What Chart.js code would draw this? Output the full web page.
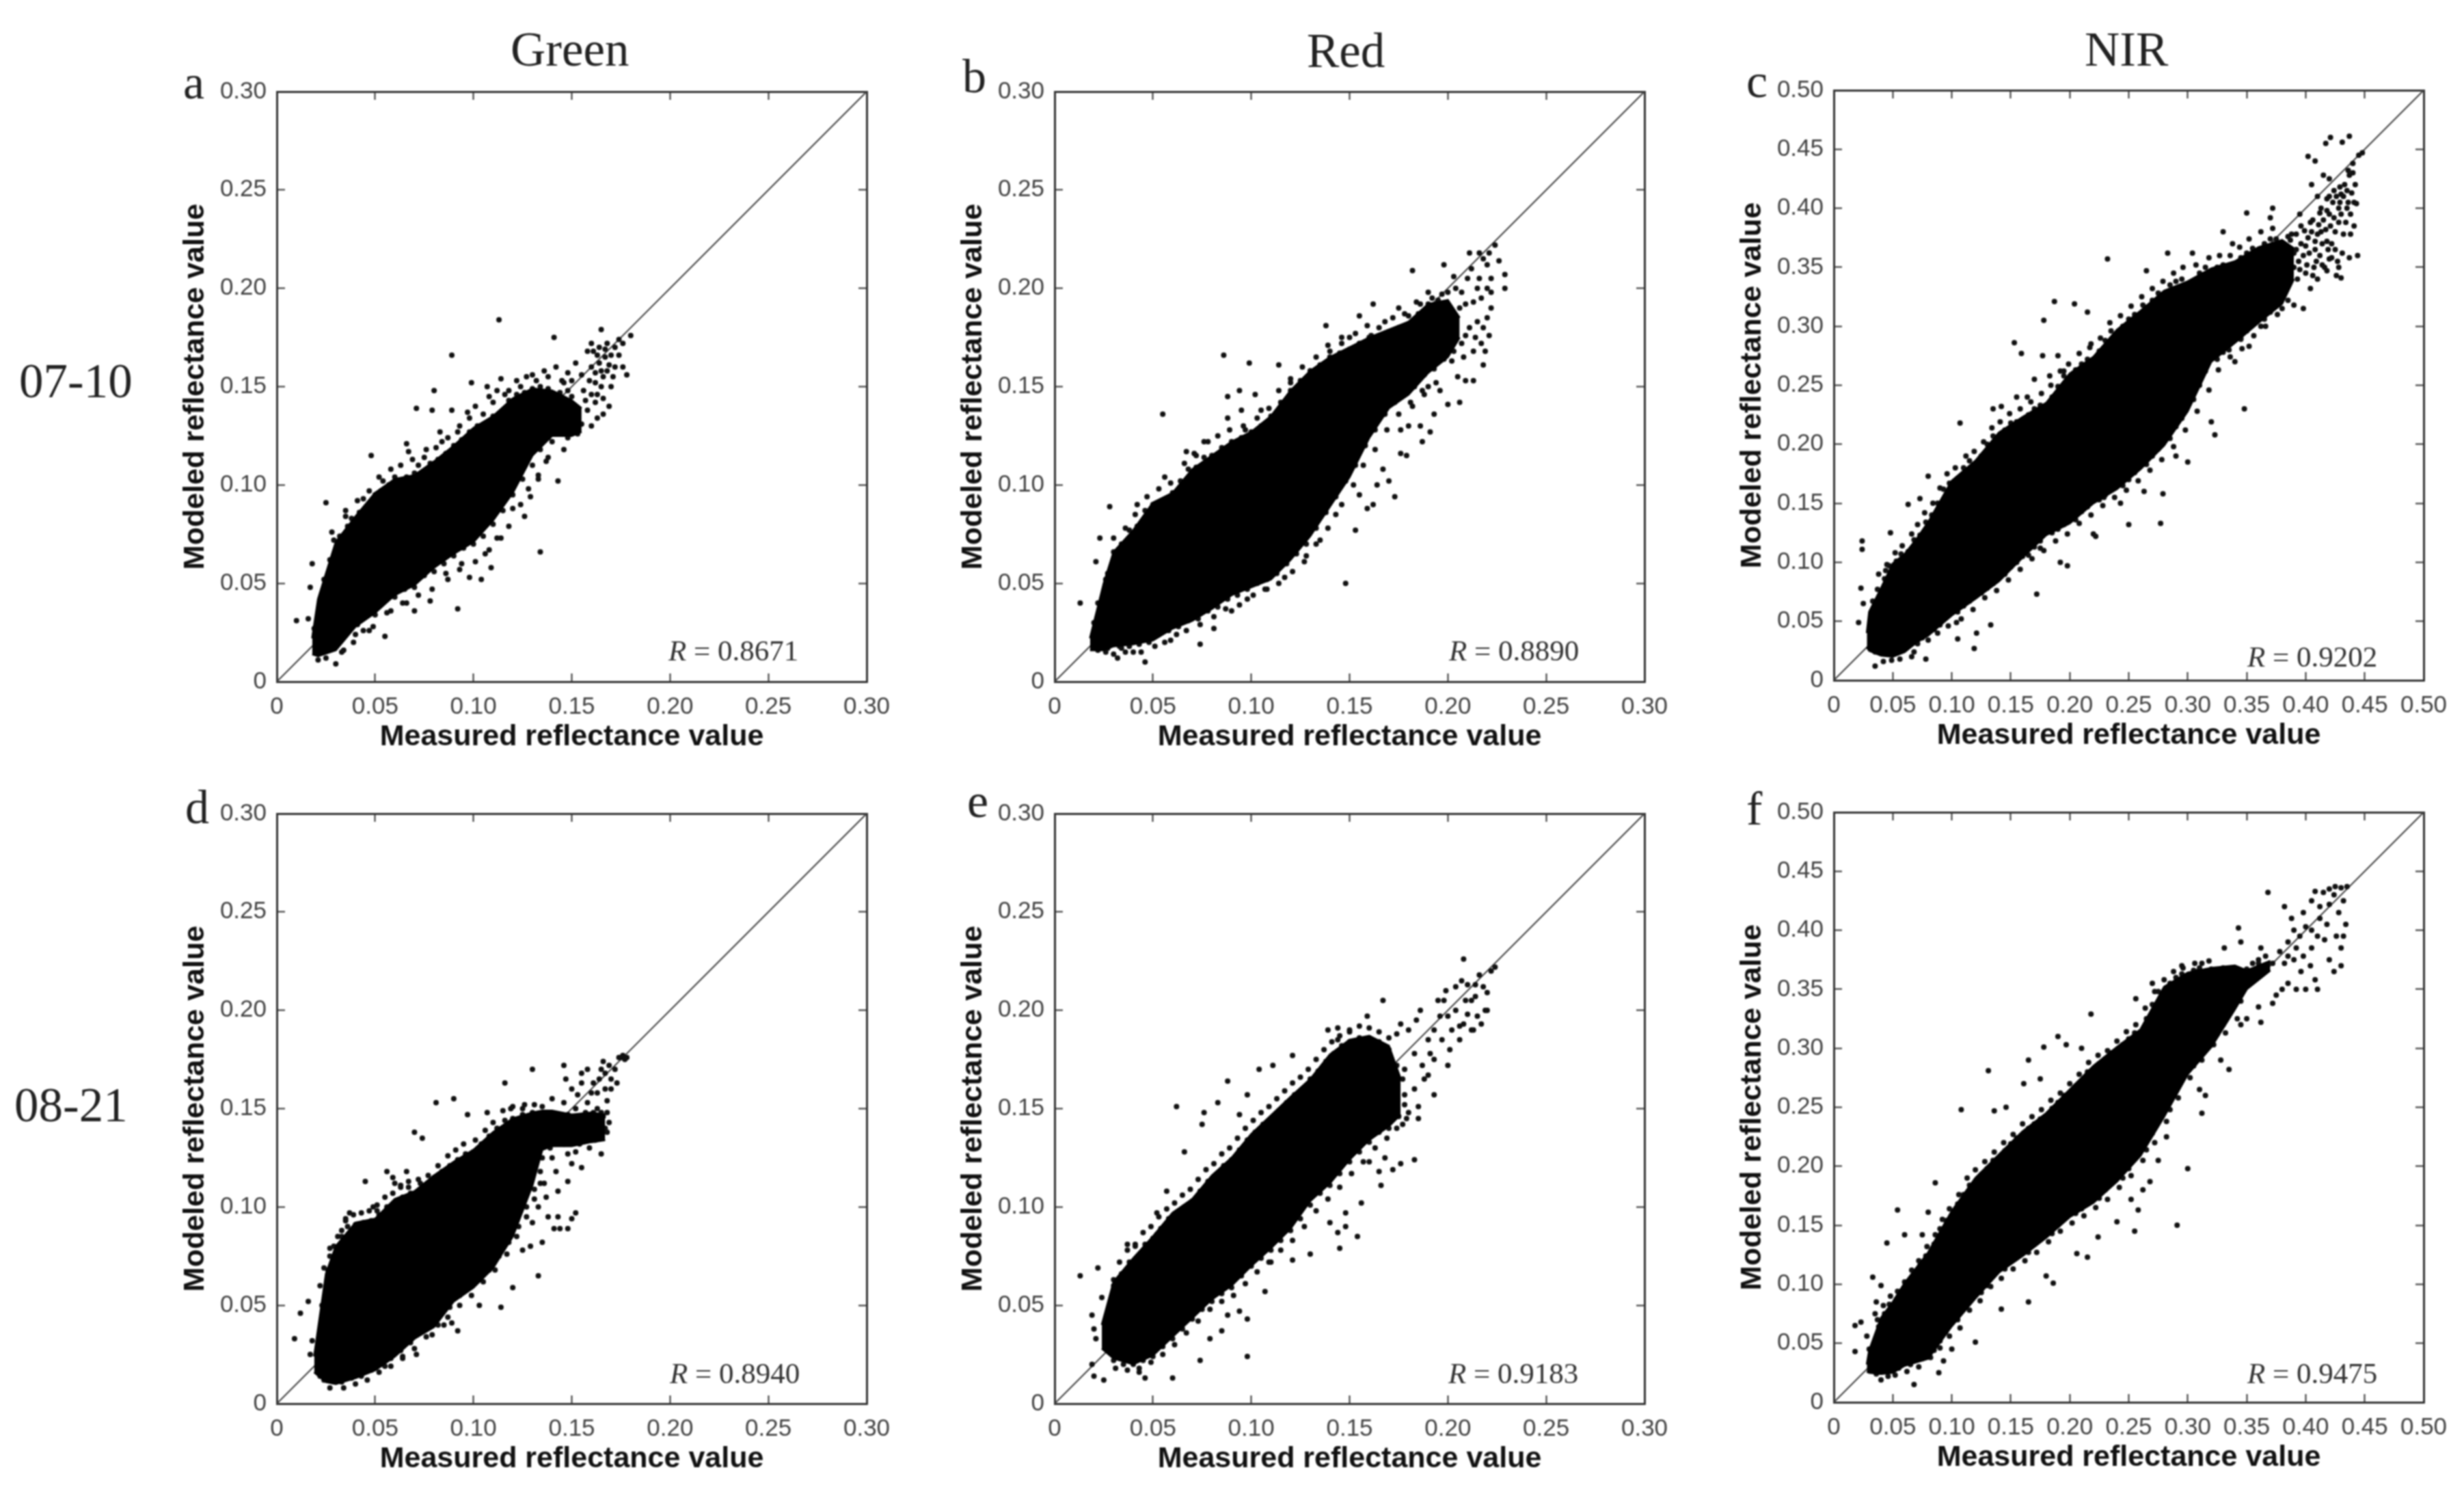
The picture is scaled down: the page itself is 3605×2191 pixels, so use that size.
<!DOCTYPE html>
<html>
<head>
<meta charset="utf-8">
<title>Measured vs modeled reflectance</title>
<script src="https://cdn.jsdelivr.net/npm/chart.js@4/dist/chart.umd.min.js"></script>
<style>
    html, body { margin: 0; padding: 0; background: #fff; }
    #page { position: relative; width: 3605px; height: 2191px; overflow: hidden; background: #fff; filter: blur(0.8px); }
    canvas { position: absolute; }
    .serif { position: absolute; font-family: "Liberation Serif", serif; line-height: 1; white-space: nowrap; color: #222; }
</style>
</head>
<body>
<div id="page"></div>
<script>
// Tick labels
const ticks30 = ['0', '0.05', '0.10', '0.15', '0.20', '0.25', '0.30'];
const ticks50 = ['0', '0.05', '0.10', '0.15', '0.20', '0.25', '0.30', '0.35', '0.40', '0.45', '0.50'];

// Panel a: dense cloud read as top and bottom edges, then the separate dots
const aCloudX = [.018, .021, .03, .04, .05, .06, .07, .08, .09, .10, .11, .12, .13, .14, .15, .155];
const aCloudTop = [.022, .042, .071, .084, .096, .103, .105, .112, .120, .129, .135, .144, .149, .148, .143, .139];
const aCloudBottom = [.014, .013, .016, .028, .035, .044, .049, .058, .065, .071, .082, .096, .115, .125, .125, .127];
const aDots = [[.113,.184],[.089,.166],[.141,.175],[.165,.179],[.080,.148],[.071,.139],[.079,.138],[.089,.138],[.099,.152],[.107,.150],[.114,.154],[.025,.091],[.035,.087],[.048,.115],[.066,.121],[.134,.066],[.143,.102],[.092,.037],[.055,.023],[.030,.009],[.018,.060],[.017,.048],[.010,.031],[.016,.032],[.032,.074],[.044,.093],[.054,.102],[.180,.176],[.178,.156],[.104,.052],[.109,.058],[.098,.053],[.078,.041],[.070,.036],[.047,.026],[.060,.104],[.072,.110],[.076,.118],[.084,.122],[.092,.127],[.098,.134],[.105,.136],[.110,.142],[.118,.148],[.124,.150],[.130,.156],[.136,.158],[.142,.160],[.148,.157],[.120,.088],[.128,.098],[.133,.105],[.137,.112],[.140,.122],[.126,.084],[.114,.073],[.106,.065],[.094,.060],[.086,.055],[.064,.040],[.056,.035],[.040,.024],[.034,.016],[.025,.012],[.021,.011],[.019,.027],[.148,.148],[.150,.153],[.152,.162],[.155,.156],[.156,.148],[.158,.168],[.160,.160],[.160,.172],[.162,.152],[.162,.142],[.164,.170],[.164,.162],[.165,.150],[.166,.144],[.166,.136],[.168,.172],[.168,.158],[.170,.166],[.170,.150],[.172,.170],[.172,.160],[.174,.174],[.174,.166],[.176,.172],[.160,.130],[.163,.134],[.155,.131],[.169,.140],[.152,.128],[.158,.138],[.176,.160],[.161,.168],[.163,.166],[.165,.158],[.167,.165],[.163,.146],[.160,.146],[.157,.143],[.166,.155],[.162,.157],[.159,.153],[.167,.169],[.169,.161],[.171,.155],[.146,.152],[.144,.146]];
const aEdge = [[.024,.052],[.027,.062],[.029,.072],[.033,.072],[.036,.079],[.038,.083],[.042,.086],[.046,.088],[.05,.095],[.053,.097],[.057,.100],[.062,.102],[.066,.104],[.07,.106],[.074,.106],[.078,.111],[.082,.113],[.086,.116],[.09,.12],[.094,.123],[.098,.127],[.102,.13],[.106,.131],[.11,.135],[.114,.137],[.118,.143],[.122,.146],[.126,.147],[.13,.149],[.134,.15],[.138,.149],[.144,.147],[.15,.145],[.026,.017],[.029,.02],[.033,.024],[.037,.027],[.041,.029],[.045,.033],[.05,.034],[.055,.041],[.06,.043],[.065,.047],[.07,.048],[.075,.054],[.08,.056],[.085,.06],[.09,.064],[.095,.068],[.1,.07],[.105,.074],[.11,.08],[.115,.087],[.12,.095],[.125,.103],[.13,.11],[.134,.118],[.138,.124],[.143,.126],[.148,.124],[.153,.126]];
const aFringe = [[.028,.076],[.035,.084],[.041,.092],[.047,.097],[.052,.104],[.058,.108],[.063,.110],[.069,.113],[.067,.117],[.075,.114],[.081,.119],[.087,.124],[.083,.127],[.093,.130],[.097,.137],[.101,.140],[.108,.145],[.112,.148],[.116,.146],[.122,.153],[.127,.155],[.132,.153],[.138,.155],[.145,.153],[.033,.015],[.039,.020],[.044,.026],[.049,.028],[.058,.036],[.066,.040],[.072,.044],[.079,.047],[.087,.052],[.093,.057],[.101,.061],[.108,.067],[.112,.073],[.118,.079],[.124,.090],[.129,.094],[.133,.103],[.138,.114],[.146,.118]];

// Panel b
const bCloudX = [.018, .025, .03, .04, .05, .06, .07, .08, .09, .10, .11, .12, .13, .14, .15, .16, .17, .18, .19, .20, .206];
const bCloudTop = [.022, .05, .066, .077, .091, .096, .108, .115, .122, .127, .135, .148, .158, .165, .17, .175, .179, .183, .192, .194, .185];
const bCloudBottom = [.016, .016, .018, .019, .021, .027, .031, .037, .044, .048, .052, .062, .074, .089, .104, .124, .139, .146, .157, .165, .175];
const bDots = [[.086,.166],[.099,.162],[.114,.161],[.182,.209],[.162,.192],[.155,.186],[.138,.181],[.055,.136],[.028,.089],[.023,.073],[.021,.061],[.013,.040],[.042,.090],[.056,.104],[.067,.117],[.148,.050],[.173,.094],[.206,.142],[.191,.127],[.179,.115],[.046,.010],[.032,.012],[.074,.019],[.081,.027],[.153,.077],[.159,.088],[.164,.100],[.229,.207],[.229,.200],[.226,.214],[.198,.212],[.221,.176],[.218,.161],[.209,.153],[.088,.145],[.094,.148],[.102,.146],[.095,.138],[.088,.134],[.105,.138],[.097,.128],[.076,.122],[.071,.116],[.120,.152],[.130,.158],[.128,.151],[.140,.168],[.146,.172],[.150,.175],[.161,.176],[.168,.183],[.175,.190],[.180,.186],[.186,.192],[.192,.195],[.197,.197],[.167,.108],[.170,.102],[.162,.090],[.155,.095],[.143,.085],[.135,.072],[.128,.064],[.117,.053],[.108,.047],[.098,.042],[.090,.036],[.082,.040],[.062,.024],[.056,.020],[.040,.015],[.034,.017],[.030,.014],[.026,.015],[.022,.016],[.020,.030],[.022,.040],[.026,.052],[.186,.130],[.182,.140],[.193,.136],[.200,.141],[.196,.148],[.188,.146],[.180,.130],[.176,.128],[.187,.122],[.176,.116],[.190,.150],[.205,.155],[.202,.163],[.208,.165],[.213,.153],[.211,.180],[.214,.175],[.217,.172],[.219,.168],[.213,.168],[.207,.172],[.209,.176],[.215,.183],[.218,.180],[.220,.185],[.222,.190],[.217,.195],[.220,.200],[.222,.205],[.215,.200],[.210,.205],[.207,.198],[.204,.200],[.212,.210],[.218,.215],[.221,.218],[.224,.222],[.211,.218],[.216,.218],[.220,.212],[.213,.193],[.209,.192],[.203,.206],[.200,.198],[.206,.190],[.216,.205],[.222,.198]];
const bEdge = [[.027,.055],[.03,.066],[.034,.07],[.038,.077],[.042,.079],[.046,.087],[.05,.09],[.055,.092],[.06,.096],[.064,.102],[.068,.108],[.072,.109],[.076,.114],[.08,.115],[.085,.119],[.09,.122],[.095,.124],[.1,.127],[.105,.13],[.11,.135],[.115,.142],[.12,.148],[.125,.153],[.13,.158],[.135,.161],[.14,.165],[.145,.167],[.15,.169],[.155,.172],[.16,.175],[.165,.176],[.17,.178],[.175,.18],[.18,.182],[.185,.187],[.19,.192],[.195,.194],[.027,.017],[.033,.018],[.038,.018],[.043,.019],[.048,.02],[.053,.024],[.058,.026],[.063,.028],[.068,.031],[.073,.032],[.078,.036],[.083,.038],[.088,.042],[.093,.044],[.098,.047],[.103,.05],[.108,.052],[.113,.055],[.118,.06],[.123,.065],[.128,.07],[.133,.078],[.138,.086],[.143,.094],[.148,.102],[.153,.11],[.158,.12],[.163,.128],[.168,.136],[.173,.142],[.178,.146],[.183,.15],[.188,.156],[.193,.159],[.198,.164],[.203,.168]];
const bFringe = [[.03,.073],[.036,.078],[.041,.085],[.047,.094],[.053,.098],[.059,.101],[.066,.111],[.072,.115],[.078,.122],[.083,.125],[.089,.128],[.096,.130],[.103,.134],[.109,.139],[.114,.148],[.120,.154],[.126,.160],[.133,.165],[.139,.171],[.146,.175],[.153,.177],[.159,.181],[.165,.180],[.172,.185],[.178,.187],[.184,.193],[.190,.198],[.036,.015],[.044,.015],[.051,.018],[.059,.021],[.067,.026],[.074,.029],[.081,.033],[.087,.037],[.094,.039],[.101,.044],[.107,.047],[.114,.050],[.121,.056],[.127,.061],[.133,.070],[.139,.078],[.146,.090],[.152,.100],[.157,.110],[.163,.118],[.169,.128],[.175,.136],[.181,.142],[.187,.148],[.194,.152]];

// Panel c
const cCloudX = [.028, .03, .04, .05, .06, .07, .08, .10, .12, .14, .16, .18, .20, .22, .24, .26, .28, .30, .32, .34, .36, .38, .39];
const cCloudTop = [.04, .058, .078, .099, .107, .1195, .134, .169, .186, .21, .223, .235, .26, .274, .297, .313, .33, .338, .349, .355, .367, .373, .366];
const cCloudBottom = [.028, .025, .021, .02, .024, .032, .038, .055, .069, .084, .104, .123, .133, .15, .162, .179, .199, .228, .27, .286, .303, .319, .34];
const cDots = [[.232,.357],[.283,.362],[.304,.362],[.265,.347],[.187,.321],[.204,.319],[.215,.312],[.178,.305],[.153,.286],[.159,.277],[.177,.275],[.190,.275],[.107,.218],[.080,.173],[.063,.149],[.073,.154],[.048,.125],[.024,.118],[.024,.111],[.044,.093],[.023,.078],[.025,.065],[.021,.049],[.035,.012],[.049,.017],[.066,.020],[.078,.018],[.119,.027],[.105,.035],[.121,.040],[.133,.047],[.104,.049],[.172,.073],[.198,.097],[.192,.100],[.222,.122],[.220,.124],[.250,.132],[.277,.133],[.279,.158],[.348,.230],[.320,.219],[.323,.208],[.300,.185],[.290,.190],[.263,.160],[.243,.150],[.229,.155],[.175,.112],[.160,.105],[.145,.098],[.090,.047],[.071,.031],[.059,.030],[.135,.230],[.142,.232],[.155,.240],[.164,.240],[.170,.255],[.183,.258],[.195,.262],[.200,.250],[.218,.285],[.245,.296],[.250,.290],[.262,.318],[.288,.330],[.330,.380],[.338,.370],[.350,.396],[.370,.392],[.372,.400],[.345,.290],[.340,.270],[.352,.283],[.335,.280],[.362,.300],[.380,.315],[.390,.318],[.398,.315],[.404,.332],[.409,.355],[.420,.357],[.428,.350],[.437,.358],[.444,.360],[.430,.341],[.418,.347],[.400,.345],[.393,.340],[.385,.355],[.392,.365],[.400,.368],[.408,.372],[.413,.380],[.418,.372],[.425,.365],[.432,.378],[.438,.378],[.441,.385],[.443,.404],[.435,.400],[.428,.400],[.420,.395],[.412,.396],[.404,.388],[.396,.385],[.388,.378],[.430,.412],[.424,.415],[.418,.408],[.410,.410],[.405,.420],[.402,.444],[.408,.440],[.415,.428],[.420,.425],[.436,.432],[.440,.438],[.445,.445],[.448,.447],[.417,.455],[.421,.460],[.431,.456],[.437,.461],[.429,.418],[.442,.420],[.395,.395],[.385,.365],[.376,.355],[.394,.355]];
const cEdge = [[.033,.067],[.037,.077],[.043,.086],[.047,.097],[.053,.101],[.057,.107],[.063,.109],[.068,.119],[.073,.123],[.078,.134],[.083,.14],[.088,.15],[.093,.162],[.098,.167],[.105,.171],[.11,.18],[.115,.186],[.125,.19],[.13,.2],[.135,.207],[.145,.212],[.15,.218],[.155,.219],[.165,.225],[.17,.23],[.175,.233],[.185,.24],[.19,.249],[.195,.258],[.205,.263],[.21,.268],[.215,.272],[.225,.279],[.23,.288],[.235,.296],[.245,.3],[.25,.306],[.255,.31],[.265,.316],[.27,.322],[.275,.328],[.285,.335],[.29,.338],[.295,.34],[.31,.345],[.315,.35],[.325,.35],[.33,.352],[.345,.358],[.35,.362],[.355,.366],[.365,.37],[.37,.374],[.375,.374],[.385,.376],[.035,.024],[.045,.022],[.055,.024],[.065,.031],[.075,.036],[.085,.043],[.09,.048],[.095,.053],[.105,.058],[.11,.063],[.115,.067],[.125,.074],[.13,.078],[.135,.082],[.145,.09],[.15,.096],[.155,.1],[.165,.106],[.17,.113],[.175,.118],[.185,.125],[.19,.128],[.195,.132],[.205,.136],[.21,.143],[.215,.147],[.225,.153],[.23,.157],[.235,.162],[.245,.165],[.25,.17],[.255,.176],[.265,.183],[.27,.19],[.275,.196],[.285,.205],[.29,.215],[.295,.222],[.305,.238],[.31,.25],[.315,.262],[.325,.272],[.33,.278],[.335,.284],[.345,.289],[.35,.296],[.355,.302],[.365,.306],[.37,.312],[.375,.318],[.385,.322]];
const cFringe = [[.038,.09],[.045,.098],[.052,.108],[.058,.114],[.066,.124],[.071,.132],[.077,.142],[.084,.15],[.09,.163],[.096,.175],[.103,.18],[.112,.19],[.119,.194],[.127,.202],[.134,.214],[.141,.219],[.149,.226],[.158,.23],[.167,.236],[.176,.243],[.184,.25],[.192,.262],[.199,.268],[.208,.277],[.217,.282],[.226,.29],[.234,.303],[.243,.309],[.252,.317],[.261,.325],[.27,.332],[.279,.338],[.288,.345],[.296,.35],[.307,.352],[.318,.358],[.327,.36],[.336,.36],[.344,.367],[.352,.374],[.362,.38],[.372,.383],[.042,.016],[.056,.018],[.068,.024],[.08,.034],[.088,.04],[.097,.046],[.108,.052],[.118,.06],[.128,.07],[.138,.076],[.148,.085],[.158,.094],[.168,.103],[.178,.11],[.188,.118],[.198,.124],[.208,.133],[.218,.14],[.228,.148],[.238,.155],[.248,.161],[.258,.169],[.268,.178],[.278,.187],[.288,.198],[.298,.212],[.308,.228],[.318,.246],[.326,.263],[.336,.274],[.346,.281],[.356,.292],[.366,.3],[.376,.31],[.381,.37],[.384,.36],[.387,.373],[.39,.35],[.39,.362],[.392,.378],[.395,.348],[.396,.37],[.398,.36],[.399,.381],[.401,.352],[.402,.375],[.403,.362],[.405,.38],[.406,.39],[.407,.35],[.408,.365],[.41,.378],[.411,.386],[.412,.36],[.413,.4],[.414,.37],[.415,.39],[.416,.35],[.417,.382],[.418,.398],[.419,.365],[.42,.41],[.421,.385],[.422,.37],[.423,.405],[.424,.392],[.425,.38],[.426,.41],[.427,.355],[.428,.388],[.429,.405],[.43,.395],[.431,.362],[.432,.41],[.433,.42],[.434,.388],[.435,.415],[.436,.405],[.437,.428],[.438,.395],[.439,.413],[.44,.43],[.441,.405],[.422,.358],[.414,.352],[.426,.343],[.406,.343],[.41,.34]];

// Panel d
const dCloudX = [.019, .025, .03, .04, .05, .06, .07, .08, .09, .10, .11, .12, .13, .135, .14, .15, .16, .167];
const dCloudTop = [.024, .066, .08, .092, .094, .104, .108, .116, .123, .129, .138, .145, .148, .149, .149, .147, .148, .147];
const dCloudBottom = [.016, .011, .01, .013, .017, .024, .033, .039, .052, .059, .069, .085, .111, .129, .131, .131, .133, .134];
const dDots = [[.090,.155],[.081,.153],[.116,.163],[.130,.170],[.146,.172],[.070,.138],[.074,.135],[.097,.147],[.107,.148],[.119,.150],[.125,.150],[.135,.151],[.140,.155],[.045,.113],[.056,.118],[.059,.115],[.060,.112],[.063,.110],[.066,.118],[.067,.110],[.071,.107],[.073,.112],[.049,.100],[.051,.098],[.037,.097],[.035,.093],[.039,.085],[.033,.088],[.027,.079],[.024,.069],[.016,.052],[.012,.046],[.009,.033],[.133,.065],[.120,.059],[.114,.049],[.103,.050],[.092,.037],[.089,.041],[.085,.040],[.079,.035],[.071,.025],[.064,.024],[.055,.019],[.043,.014],[.033,.012],[.024,.012],[.017,.025],[.018,.032],[.125,.078],[.135,.082],[.129,.080],[.144,.089],[.141,.089],[.148,.089],[.143,.095],[.152,.097],[.150,.094],[.138,.095],[.130,.092],[.133,.100],[.137,.105],[.143,.108],[.148,.113],[.136,.112],[.142,.118],[.150,.122],[.155,.120],[.152,.128],[.148,.127],[.140,.125],[.159,.130],[.165,.127],[.139,.130],[.135,.125],[.146,.153],[.150,.160],[.147,.165],[.152,.150],[.153,.157],[.155,.163],[.155,.168],[.158,.170],[.158,.153],[.160,.158],[.161,.163],[.163,.150],[.163,.158],[.164,.165],[.165,.170],[.166,.174],[.167,.168],[.167,.160],[.168,.154],[.169,.172],[.170,.165],[.170,.160],[.172,.170],[.173,.163],[.175,.176],[.177,.175],[.176,.177],[.178,.176],[.174,.176],[.165,.148],[.168,.148],[.169,.143],[.167,.140],[.161,.148],[.157,.148],[.153,.146],[.148,.147]];
const dEdge = [[.023,.05],[.026,.068],[.029,.08],[.033,.085],[.036,.09],[.04,.091],[.044,.092],[.048,.093],[.052,.096],[.056,.1],[.06,.102],[.064,.105],[.068,.107],[.072,.108],[.076,.111],[.08,.115],[.084,.118],[.088,.121],[.092,.124],[.096,.127],[.1,.128],[.104,.132],[.108,.136],[.112,.14],[.116,.144],[.12,.145],[.125,.147],[.13,.148],[.022,.014],[.027,.012],[.033,.011],[.038,.013],[.043,.016],[.048,.017],[.053,.02],[.058,.023],[.063,.027],[.068,.031],[.073,.036],[.078,.039],[.083,.045],[.088,.049],[.093,.055],[.098,.06],[.103,.063],[.108,.068],[.113,.075],[.118,.082],[.123,.09],[.127,.1],[.131,.109],[.134,.118],[.142,.147],[.146,.132],[.15,.146],[.154,.132],[.158,.146],[.162,.134],[.166,.146],[.168,.138]];
const dFringe = [[.022,.06],[.027,.075],[.031,.085],[.035,.094],[.039,.096],[.043,.097],[.047,.098],[.051,.101],[.055,.105],[.059,.107],[.063,.111],[.067,.113],[.072,.114],[.077,.116],[.082,.121],[.087,.126],[.091,.129],[.095,.132],[.101,.134],[.106,.139],[.11,.143],[.115,.149],[.12,.151],[.126,.152],[.131,.152],[.027,.008],[.034,.008],[.04,.01],[.046,.012],[.052,.016],[.058,.019],[.064,.023],[.07,.028],[.076,.034],[.082,.04],[.087,.044],[.093,.05],[.099,.055],[.105,.062],[.111,.068],[.117,.076],[.122,.085],[.127,.095],[.131,.104],[.134,.112]];

// Panel e
const eCloudX = [.024, .03, .04, .05, .06, .07, .08, .09, .10, .11, .12, .13, .14, .15, .16, .17, .176];
const eCloudTop = [.04, .062, .074, .085, .097, .104, .116, .125, .137, .1465, .156, .165, .1775, .185, .187, .182, .165];
const eCloudBottom = [.028, .023, .02, .0245, .034, .0435, .053, .06, .07, .079, .089, .103, .112, .124, .134, .141, .147];
const eDots = [[.062,.151],[.088,.164],[.083,.153],[.076,.148],[.075,.142],[.094,.147],[.098,.157],[.104,.170],[.111,.172],[.121,.177],[.139,.190],[.144,.191],[.159,.197],[.167,.205],[.066,.128],[.057,.108],[.052,.097],[.052,.086],[.037,.081],[.041,.080],[.030,.063],[.022,.069],[.013,.065],[.024,.054],[.019,.045],[.020,.038],[.021,.033],[.098,.024],[.060,.013],[.046,.013],[.043,.016],[.025,.012],[.020,.014],[.019,.020],[.074,.022],[.079,.033],[.085,.037],[.098,.043],[.094,.047],[.088,.045],[.107,.057],[.110,.072],[.121,.073],[.130,.076],[.145,.079],[.154,.085],[.148,.090],[.144,.087],[.148,.097],[.140,.092],[.156,.102],[.166,.111],[.183,.124],[.172,.119],[.176,.122],[.165,.118],[.160,.123],[.168,.125],[.125,.152],[.130,.165],[.137,.172],[.144,.185],[.147,.180],[.150,.189],[.155,.183],[.174,.188],[.176,.193],[.180,.190],[.184,.195],[.186,.200],[.190,.185],[.193,.175],[.190,.167],[.193,.157],[.185,.151],[.185,.145],[.180,.148],[.177,.142],[.178,.157],[.183,.160],[.187,.172],[.183,.178],[.178,.170],[.193,.190],[.196,.197],[.197,.185],[.200,.172],[.201,.180],[.202,.190],[.198,.205],[.195,.205],[.199,.210],[.204,.200],[.206,.192],[.206,.185],[.208,.193],[.210,.198],[.212,.190],[.204,.212],[.207,.215],[.210,.213],[.212,.205],[.214,.207],[.216,.218],[.214,.213],[.218,.212],[.220,.209],[.222,.220],[.224,.222],[.217,.193],[.220,.200],[.208,.226],[.213,.190],[.219,.200],[.215,.197],[.209,.205],[.200,.197],[.191,.178],[.188,.165]];
const eEdge = [[.03,.06],[.034,.066],[.038,.072],[.042,.074],[.046,.081],[.05,.084],[.054,.089],[.058,.094],[.062,.097],[.066,.1],[.07,.103],[.074,.108],[.078,.113],[.082,.116],[.086,.121],[.09,.124],[.094,.129],[.098,.134],[.102,.138],[.106,.142],[.11,.145],[.114,.149],[.118,.153],[.122,.157],[.126,.16],[.13,.164],[.134,.169],[.138,.174],[.142,.178],[.146,.182],[.15,.184],[.155,.186],[.16,.186],[.165,.184],[.17,.18],[.174,.172],[.177,.165],[.03,.022],[.035,.02],[.04,.02],[.045,.022],[.05,.024],[.055,.029],[.06,.033],[.065,.038],[.07,.043],[.075,.048],[.08,.052],[.085,.056],[.09,.059],[.095,.065],[.1,.07],[.105,.074],[.11,.078],[.115,.083],[.12,.088],[.125,.094],[.13,.101],[.135,.107],[.14,.111],[.145,.117],[.15,.123],[.155,.128],[.16,.133],[.165,.138],[.17,.14],[.175,.146],[.178,.152]];
const eFringe = [[.033,.072],[.037,.078],[.041,.081],[.045,.087],[.049,.09],[.053,.095],[.057,.099],[.061,.102],[.065,.106],[.069,.109],[.073,.114],[.077,.119],[.081,.122],[.085,.127],[.089,.13],[.093,.135],[.097,.14],[.101,.144],[.105,.148],[.109,.151],[.113,.155],[.117,.159],[.121,.163],[.125,.166],[.129,.17],[.133,.175],[.137,.18],[.141,.184],[.145,.187],[.15,.19],[.155,.192],[.16,.191],[.165,.189],[.17,.186],[.031,.018],[.037,.017],[.043,.018],[.049,.021],[.055,.025],[.061,.03],[.067,.036],[.073,.042],[.079,.048],[.085,.052],[.091,.055],[.097,.061],[.103,.067],[.109,.072],[.115,.078],[.121,.083],[.127,.09],[.133,.098],[.139,.104],[.145,.11],[.151,.117],[.157,.123],[.163,.13],[.169,.135],[.174,.14],[.179,.145]];

// Panel f
const fCloudX = [.028, .03, .04, .05, .06, .08, .10, .12, .14, .16, .18, .20, .22, .24, .26, .28, .30, .32, .34, .35, .37];
const fCloudTop = [.032, .044, .0715, .085, .101, .127, .162, .19, .21, .2295, .245, .265, .285, .301, .316, .352, .364, .368, .37, .366, .374];
const fCloudBottom = [.026, .025, .024, .025, .031, .037, .0645, .088, .11, .124, .1395, .157, .169, .187, .209, .242, .278, .301, .333, .35, .366];
const fDots = [[.368,.432],[.343,.402],[.345,.390],[.331,.385],[.295,.370],[.312,.372],[.308,.365],[.270,.355],[.256,.342],[.218,.329],[.190,.310],[.197,.303],[.210,.300],[.178,.301],[.165,.290],[.131,.281],[.161,.270],[.175,.274],[.108,.248],[.136,.247],[.146,.250],[.086,.186],[.080,.161],[.054,.163],[.045,.135],[.060,.142],[.075,.142],[.033,.106],[.040,.099],[.036,.085],[.035,.075],[.018,.065],[.023,.068],[.018,.043],[.030,.045],[.028,.056],[.034,.028],[.046,.022],[.068,.015],[.089,.025],[.093,.035],[.100,.045],[.120,.051],[.142,.079],[.165,.085],[.186,.101],[.180,.107],[.215,.123],[.206,.126],[.224,.140],[.255,.145],[.291,.150],[.300,.198],[.258,.163],[.240,.153],[.252,.172],[.268,.187],[.262,.180],[.275,.205],[.282,.225],[.312,.245],[.315,.260],[.310,.265],[.335,.282],[.328,.290],[.345,.320],[.350,.325],[.362,.322],[.372,.338],[.360,.335],[.375,.345],[.380,.350],[.385,.355],[.392,.350],[.400,.350],[.410,.350],[.408,.358],[.404,.370],[.396,.365],[.390,.375],[.382,.372],[.378,.382],[.372,.372],[.366,.378],[.360,.375],[.355,.372],[.362,.385],[.385,.390],[.392,.385],[.398,.378],[.405,.385],[.410,.395],[.416,.392],[.420,.375],[.424,.365],[.430,.370],[.430,.385],[.426,.395],[.418,.405],[.412,.410],[.405,.400],[.400,.403],[.395,.395],[.388,.410],[.382,.420],[.398,.415],[.405,.425],[.408,.433],[.415,.432],[.420,.422],[.424,.430],[.428,.415],[.432,.425],[.434,.405],[.432,.395],[.425,.437],[.430,.436],[.435,.437],[.420,.435],[.412,.420],[.390,.400],[.385,.378]];
const fEdge = [[.034,.05],[.038,.064],[.043,.075],[.047,.083],[.053,.087],[.057,.094],[.063,.102],[.068,.108],[.073,.116],[.078,.124],[.085,.134],[.09,.147],[.095,.154],[.105,.168],[.11,.176],[.115,.184],[.125,.193],[.13,.198],[.135,.205],[.145,.213],[.15,.219],[.155,.224],[.165,.232],[.17,.236],[.175,.24],[.185,.249],[.19,.254],[.195,.26],[.205,.268],[.21,.272],[.215,.28],[.225,.287],[.23,.291],[.235,.296],[.245,.303],[.25,.308],[.255,.313],[.265,.325],[.27,.337],[.275,.348],[.285,.355],[.29,.36],[.295,.363],[.305,.366],[.31,.368],[.32,.367],[.33,.368],[.34,.368],[.35,.367],[.36,.372],[.036,.024],[.045,.026],[.055,.029],[.065,.032],[.075,.037],[.085,.044],[.09,.052],[.095,.06],[.105,.07],[.11,.079],[.115,.085],[.125,.093],[.13,.099],[.135,.107],[.145,.113],[.15,.12],[.155,.123],[.165,.127],[.17,.134],[.175,.138],[.185,.143],[.19,.15],[.195,.156],[.205,.16],[.21,.164],[.215,.168],[.225,.173],[.23,.18],[.235,.186],[.245,.19],[.25,.198],[.255,.206],[.265,.214],[.27,.228],[.275,.238],[.285,.248],[.29,.264],[.295,.275],[.305,.285],[.31,.296],[.315,.3],[.325,.312],[.33,.32],[.335,.33],[.345,.34]];
const fFringe = [[.037,.07],[.042,.082],[.048,.09],[.054,.094],[.06,.102],[.066,.112],[.072,.12],[.079,.132],[.086,.142],[.092,.155],[.098,.164],[.106,.176],[.113,.19],[.12,.197],[.128,.204],[.136,.212],[.144,.22],[.152,.227],[.16,.236],[.168,.242],[.176,.248],[.184,.256],[.192,.262],[.2,.27],[.208,.278],[.216,.288],[.224,.294],[.232,.298],[.24,.306],[.248,.314],[.256,.32],[.264,.334],[.272,.348],[.28,.358],[.288,.365],[.296,.368],[.306,.372],[.318,.374],[.04,.019],[.052,.023],[.062,.026],[.072,.03],[.082,.038],[.09,.046],[.098,.056],[.107,.063],[.115,.078],[.124,.086],[.133,.098],[.142,.105],[.152,.113],[.162,.12],[.172,.127],[.182,.136],[.192,.145],[.202,.152],[.212,.158],[.222,.165],[.232,.172],[.242,.182],[.252,.192],[.262,.205],[.272,.22],[.282,.238],[.292,.258],[.302,.275],[.312,.29],[.322,.303],[.332,.313],[.342,.325]];

// Diagonal reference lines
const diag30 = [[0, 0], [.30, .30]];
const diag50 = [[0, 0], [.50, .50]];

// Text and placement of each panel
const panels = [
    { letter: 'a', r: '0.8671', max: .30, labels: ticks30, cloud: [aCloudX, aCloudTop, aCloudBottom], dots: aDots.concat(aEdge, aFringe), diag: diag30, left: 405, top: 134, letterX: 268, letterY: 145, rX: 978, rY: 966 },
    { letter: 'b', r: '0.8890', max: .30, labels: ticks30, cloud: [bCloudX, bCloudTop, bCloudBottom], dots: bDots.concat(bEdge, bFringe), diag: diag30, left: 1543, top: 134, letterX: 1408, letterY: 136, rX: 2120, rY: 966 },
    { letter: 'c', r: '0.9202', max: .50, labels: ticks50, cloud: [cCloudX, cCloudTop, cCloudBottom], dots: cDots.concat(cEdge, cFringe), diag: diag50, left: 2683, top: 132, letterX: 2555, letterY: 143, rX: 3288, rY: 975 },
    { letter: 'd', r: '0.8940', max: .30, labels: ticks30, cloud: [dCloudX, dCloudTop, dCloudBottom], dots: dDots.concat(dEdge, dFringe), diag: diag30, left: 405, top: 1190, letterX: 271, letterY: 1205, rX: 980, rY: 2023 },
    { letter: 'e', r: '0.9183', max: .30, labels: ticks30, cloud: [eCloudX, eCloudTop, eCloudBottom], dots: eDots.concat(eEdge, eFringe), diag: diag30, left: 1543, top: 1190, letterX: 1415, letterY: 1196, rX: 2119, rY: 2023 },
    { letter: 'f', r: '0.9475', max: .50, labels: ticks50, cloud: [fCloudX, fCloudTop, fCloudBottom], dots: fDots.concat(fEdge, fFringe), diag: diag50, left: 2683, top: 1188, letterX: 2555, letterY: 1207, rX: 3288, rY: 2023 }
];

const headers = [
    { text: 'Green', x: 747, y: 96 },
    { text: 'Red', x: 1912, y: 98 },
    { text: 'NIR', x: 3050, y: 96 },
    { text: '07-10', x: 28, y: 581 },
    { text: '08-21', x: 21, y: 1640 }
];

const plotSize = 863;
const leftSpace = 150;
const bottomSpace = 130;
const topSpace = 20;
const rightSpace = 70;
const inkColor = '#333';
const page = document.getElementById('page');

function addSerif(html, x, baseline, size, color) {
    const div = document.createElement('div');
    div.className = 'serif';
    div.innerHTML = html;
    div.style.left = x + 'px';
    // line-height 1 puts the baseline about 0.84em under the top
    div.style.top = (baseline - 0.8375 * size) + 'px';
    div.style.fontSize = size + 'px';
    if (color) div.style.color = color;
    page.appendChild(div);
}

function pairs(xs, ys) {
    return xs.map((x, i) => ({ x: x, y: ys[i] }));
}

// Box sides with inward ticks, like the original plots
function boxAxis(panel, position, titleText) {
    const horizontal = position === 'bottom' || position === 'top';
    const main = position === 'bottom' || position === 'left';
    return {
        type: 'linear',
        position: position,
        min: 0,
        max: panel.max,
        border: { color: inkColor, width: 3 },
        grid: { drawOnChartArea: false, drawTicks: true, tickLength: -12, tickColor: inkColor, tickWidth: 2 },
        ticks: {
            display: main,
            stepSize: .05,
            autoSkip: false,
            maxRotation: 0,
            minRotation: 0,
            padding: horizontal ? 28 : 27,
            color: '#444',
            font: { family: '"Liberation Sans"', size: 35 },
            callback: (value, index) => panel.labels[index]
        },
        title: {
            display: main,
            text: titleText,
            color: '#111',
            font: { family: '"Liberation Sans"', size: 43, weight: 'bold' },
            padding: horizontal ? { top: 0, bottom: 23 } : { top: 5, bottom: 0 }
        },
        afterFit: scale => {
            // keep the plot square: no room reserved for half labels
            scale.paddingTop = 0;
            scale.paddingBottom = 0;
            scale.paddingLeft = 0;
            scale.paddingRight = 0;
            if (horizontal) scale.height = main ? bottomSpace : 0;
            else scale.width = main ? leftSpace : 0;
        }
    };
}

function drawPanel(panel) {
    const canvas = document.createElement('canvas');
    canvas.width = leftSpace + plotSize + rightSpace;
    canvas.height = topSpace + plotSize + bottomSpace;
    canvas.style.left = (panel.left - leftSpace) + 'px';
    canvas.style.top = (panel.top - topSpace) + 'px';
    page.appendChild(canvas);

    new Chart(canvas.getContext('2d'), {
        type: 'scatter',
        data: {
            datasets: [
                {
                    data: pairs(panel.cloud[0], panel.cloud[1]),
                    showLine: true,
                    fill: '+1',
                    backgroundColor: '#000',
                    borderColor: '#000',
                    borderWidth: 3,
                    pointRadius: 0
                },
                {
                    data: pairs(panel.cloud[0], panel.cloud[2]),
                    showLine: true,
                    borderColor: '#000',
                    borderWidth: 3,
                    pointRadius: 0
                },
                {
                    data: panel.dots.map(d => ({ x: d[0], y: d[1] })),
                    backgroundColor: '#111',
                    borderWidth: 0,
                    pointRadius: 4
                },
                {
                    data: panel.diag.map(d => ({ x: d[0], y: d[1] })),
                    showLine: true,
                    borderColor: '#444',
                    borderWidth: 2,
                    pointRadius: 0
                }
            ]
        },
        options: {
            responsive: false,
            animation: false,
            layout: { padding: { top: topSpace, right: rightSpace, left: 0, bottom: 0 } },
            plugins: { legend: { display: false }, tooltip: { enabled: false } },
            scales: {
                x: boxAxis(panel, 'bottom', 'Measured reflectance value'),
                y: boxAxis(panel, 'left', 'Modeled reflectance value'),
                x2: boxAxis(panel, 'top', ''),
                y2: boxAxis(panel, 'right', '')
            }
        }
    });

    addSerif(panel.letter, panel.letterX, panel.letterY, 70);
    addSerif('<i>R</i> = ' + panel.r, panel.rX, panel.rY, 43, '#333');
}

panels.forEach(drawPanel);
headers.forEach(h => addSerif(h.text, h.x, h.y, 71));
</script>
</body>
</html>
